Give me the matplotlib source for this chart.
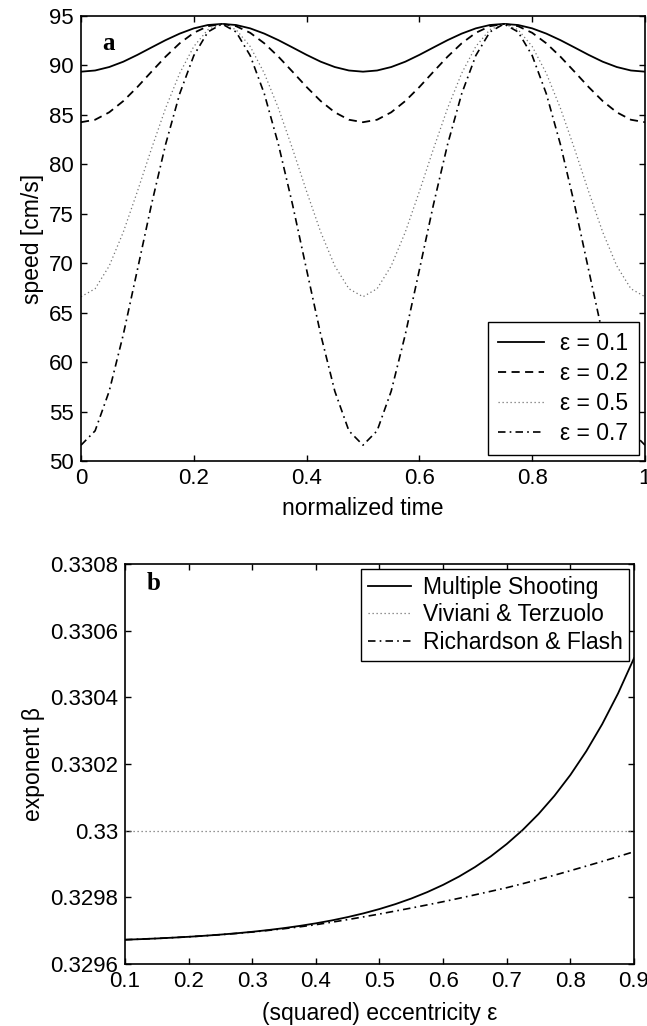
import numpy as np
import matplotlib.pyplot as plt

plt.rcParams['font.family'] = ['Liberation Sans', 'DejaVu Sans']

# panel a: speed over normalized time (step 0.025)
tiempo = np.linspace(0, 1, 41)

vel_01 = [89.37, 89.49, 89.84, 90.38, 91.07, 91.82, 92.56, 93.22, 93.75, 94.09, 94.20,
          94.09, 93.75, 93.22, 92.56, 91.82, 91.07, 90.38, 89.84, 89.49, 89.37,
          89.49, 89.84, 90.38, 91.07, 91.82, 92.56, 93.22, 93.75, 94.09, 94.20,
          94.09, 93.75, 93.22, 92.56, 91.82, 91.07, 90.38, 89.84, 89.49, 89.37]
vel_02 = [84.26, 84.51, 85.26, 86.40, 87.82, 89.37, 90.89, 92.24, 93.30, 93.97, 94.20,
          93.97, 93.30, 92.24, 90.89, 89.37, 87.82, 86.40, 85.26, 84.51, 84.26,
          84.51, 85.26, 86.40, 87.82, 89.37, 90.89, 92.24, 93.30, 93.97, 94.20,
          93.97, 93.30, 92.24, 90.89, 89.37, 87.82, 86.40, 85.26, 84.51, 84.26]
vel_05 = [66.61, 67.42, 69.72, 73.15, 77.26, 81.58, 85.68, 89.21, 91.92, 93.62, 94.20,
          93.62, 91.92, 89.21, 85.68, 81.58, 77.26, 73.15, 69.72, 67.42, 66.61,
          67.42, 69.72, 73.15, 77.26, 81.58, 85.68, 89.21, 91.92, 93.62, 94.20,
          93.62, 91.92, 89.21, 85.68, 81.58, 77.26, 73.15, 69.72, 67.42, 66.61]
vel_07 = [51.60, 53.05, 57.06, 62.79, 69.34, 75.95, 82.02, 87.14, 91.00, 93.39, 94.20,
          93.39, 91.00, 87.14, 82.02, 75.95, 69.34, 62.79, 57.06, 53.05, 51.60,
          53.05, 57.06, 62.79, 69.34, 75.95, 82.02, 87.14, 91.00, 93.39, 94.20,
          93.39, 91.00, 87.14, 82.02, 75.95, 69.34, 62.79, 57.06, 53.05, 51.60]

# panel b: exponent beta vs (squared) eccentricity
excentricidad = np.linspace(0.1, 0.9, 33)
beta_ms = [0.3296729, 0.3296747, 0.3296767, 0.3296791, 0.3296817, 0.3296848, 0.3296883,
           0.3296922, 0.3296967, 0.3297019, 0.3297078, 0.3297145, 0.3297221, 0.3297308,
           0.3297408, 0.3297521, 0.3297650, 0.3297797, 0.3297965, 0.3298157, 0.3298375,
           0.3298624, 0.3298908, 0.3299231, 0.3299601, 0.3300021, 0.3300501, 0.3301048,
           0.3301672, 0.3302384, 0.3303195, 0.3304120, 0.3305174]
beta_rf = [0.3296729, 0.3296747, 0.3296767, 0.3296791, 0.3296817, 0.3296846, 0.3296880,
           0.3296918, 0.3296960, 0.3297008, 0.3297060, 0.3297117, 0.3297180, 0.3297255,
           0.3297333, 0.3297415, 0.3297500, 0.3297590, 0.3297680, 0.3297774, 0.3297870,
           0.3297972, 0.3298076, 0.3298182, 0.3298290, 0.3298410, 0.3298535, 0.3298665,
           0.3298800, 0.3298938, 0.3299078, 0.3299222, 0.3299370]
ecc_vt = [0.1, 0.9]
beta_vt = [0.33, 0.33]

estilo_punteado = (0, (1.0, 2.2))
estilo_rayas = (0, (4.5, 3.0))
estilo_rayapunto = (0, (4.5, 2.5, 1.0, 2.5))

fig = plt.figure(figsize=(6.47, 10.26), dpi=100)
ax1 = fig.add_axes([0.1252, 0.5507, 0.8717, 0.4337])
ax2 = fig.add_axes([0.1932, 0.0604, 0.7867, 0.3899])

#Grafico a
ax1.plot(tiempo, vel_01, color='k', lw=1.3, label='ε = 0.1')
ax1.plot(tiempo, vel_02, color='k', lw=1.3, linestyle=estilo_rayas, label='ε = 0.2')
ax1.plot(tiempo, vel_05, color='0.45', lw=0.9, linestyle=estilo_punteado, label='ε = 0.5')
ax1.plot(tiempo, vel_07, color='k', lw=1.2, linestyle=estilo_rayapunto, label='ε = 0.7')
ax1.set_xlim(0, 1)
ax1.set_ylim(50, 95)
ax1.set_xticks([0, 0.2, 0.4, 0.6, 0.8, 1])
ax1.set_xticklabels(['0', '0.2', '0.4', '0.6', '0.8', '1'])
ax1.set_yticks(range(50, 96, 5))
ax1.set_xlabel('normalized time', fontsize=16.5, labelpad=6)
ax1.set_ylabel('speed [cm/s]', fontsize=16.5, labelpad=4)
ax1.text(0.037, 0.938, 'a', transform=ax1.transAxes, fontsize=18, fontweight='bold',
         family='Liberation Serif', va='center')
ax1.legend(loc='lower right', bbox_to_anchor=(0.989, 0.0135), borderaxespad=0,
           fontsize=16.5, fancybox=False, framealpha=1, edgecolor='k',
           handlelength=2.0, handletextpad=0.7, labelspacing=0.3, borderpad=0.45)

#Grafico b
ax2.plot(excentricidad, beta_ms, color='k', lw=1.3, label='Multiple Shooting')
ax2.plot(ecc_vt, beta_vt, color='0.45', lw=0.9, linestyle=estilo_punteado,
         label='Viviani & Terzuolo')
ax2.plot(excentricidad, beta_rf, color='k', lw=1.2, linestyle=estilo_rayapunto,
         label='Richardson & Flash')
ax2.set_xlim(0.1, 0.9)
ax2.set_ylim(0.3296, 0.3308)
ax2.set_xticks([0.1, 0.2, 0.3, 0.4, 0.5, 0.6, 0.7, 0.8, 0.9])
ax2.set_xticklabels(['0.1', '0.2', '0.3', '0.4', '0.5', '0.6', '0.7', '0.8', '0.9'])
ax2.set_yticks([0.3296, 0.3298, 0.33, 0.3302, 0.3304, 0.3306, 0.3308])
ax2.set_yticklabels(['0.3296', '0.3298', '0.33', '0.3302', '0.3304', '0.3306', '0.3308'])
ax2.set_xlabel('(squared) eccentricity ε', fontsize=16.5, labelpad=7)
ax2.set_ylabel('exponent β', fontsize=16.5, labelpad=4)
ax2.text(0.043, 0.951, 'b', transform=ax2.transAxes, fontsize=18, fontweight='bold',
         family='Liberation Serif', va='center')
ax2.legend(loc='upper right', bbox_to_anchor=(0.991, 0.9875), borderaxespad=0,
           fontsize=16.5, fancybox=False, framealpha=1, edgecolor='k',
           handlelength=1.9, handletextpad=0.5, labelspacing=0.2, borderpad=0.3)

for ax in (ax1, ax2):
    ax.tick_params(direction='in', top=True, right=True, length=4, width=1,
                   labelsize=16, pad=5)
    for s in ax.spines.values():
        s.set_linewidth(1.2)

fig.savefig('out.png', dpi=100)
